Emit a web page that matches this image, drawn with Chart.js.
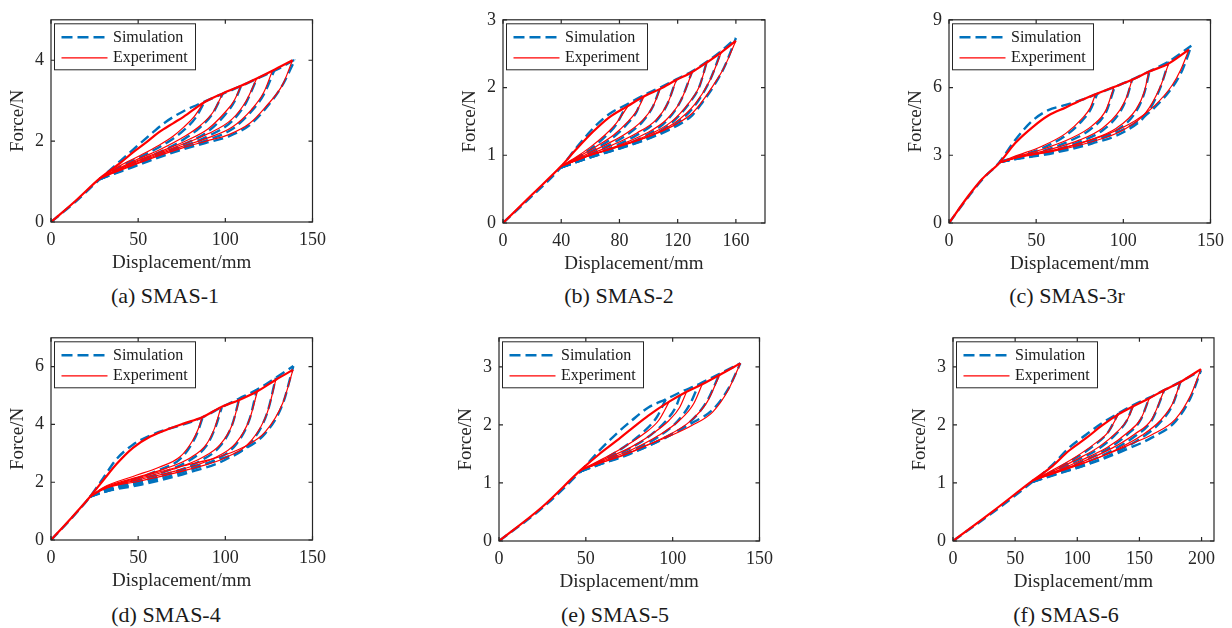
<!DOCTYPE html>
<html>
<head>
<meta charset="utf-8">
<script src="https://cdn.jsdelivr.net/npm/chart.js@4.4.1/dist/chart.umd.min.js"></script>
<style>
  body { margin: 0; background: #fff; width: 1232px; height: 628px; position: relative; overflow: hidden;
         font-family: "Liberation Serif", "Times New Roman", serif; }
  canvas { position: absolute; }
  .cap { position: absolute; width: 240px; text-align: center; font-size: 22px; line-height: 26px; color: #1a1a1a; }
</style>
</head>
<body>
<script>
// Series names / axis titles
const seriesNames = ['Simulation', 'Experiment'];
const xTitle = 'Displacement/mm';
const yTitle = 'Force/N';

// (a) SMAS-1  -- loading path, then unloading branches (junction -> peak)
const aExpLoad = [[0,0],[14,0.52],[28,1.08],[40,1.47],[47,1.72],[55,1.98],[62,2.22],[70,2.44],[76,2.6],[87.5,2.95],[98.5,3.18],[109,3.37],[118,3.55],[127,3.74],[138.5,4.0]];
const aSimLoad = [[0,0],[14,0.5],[28,1.06],[40,1.52],[50,1.9],[58,2.2],[66,2.48],[76,2.74],[84,2.9],[92,3.05],[100,3.2],[110,3.38],[120,3.58],[130,3.78],[140,4.02]];
const aExpUnload = [
  [[28,1.08],[40,1.4],[50,1.62],[62,1.9],[70,2.12],[76,2.34],[82,2.6],[87.5,2.95]],
  [[28,1.08],[47,1.5],[62,1.78],[76,2.1],[86,2.4],[93,2.72],[98.5,3.18]],
  [[28,1.08],[47,1.47],[62,1.73],[76,1.98],[90,2.3],[100,2.72],[105,3.0],[109,3.37]],
  [[28,1.08],[47,1.45],[62,1.7],[76,1.93],[90,2.18],[104,2.55],[112,3.0],[118,3.55]],
  [[28,1.08],[47,1.42],[62,1.67],[76,1.88],[90,2.08],[104,2.35],[115,2.78],[122,3.2],[127,3.74]],
  [[28,1.08],[47,1.4],[62,1.64],[76,1.84],[89,2.0],[102,2.16],[114,2.44],[123,2.84],[133,3.41],[138.5,4.0]]
];
const aSimUnload = [
  [[28,1.06],[40,1.38],[50,1.58],[62,1.85],[70,2.06],[77,2.3],[83,2.58],[88,2.97]],
  [[28,1.06],[47,1.46],[62,1.72],[76,2.04],[86,2.36],[93,2.7],[98.5,3.17]],
  [[28,1.06],[47,1.43],[62,1.68],[76,1.92],[90,2.24],[100,2.66],[105,2.96],[109,3.36]],
  [[28,1.06],[47,1.41],[62,1.65],[76,1.87],[90,2.12],[104,2.5],[112,2.96],[118,3.54]],
  [[28,1.06],[47,1.38],[62,1.62],[76,1.83],[90,2.03],[104,2.3],[115,2.74],[122,3.15],[128,3.74]],
  [[28,1.06],[47,1.36],[62,1.6],[76,1.8],[89,1.96],[102,2.12],[114,2.4],[123,2.8],[133,3.4],[140,4.02]]
];

// (b) SMAS-2
const bExpLoad = [[0,0],[20,0.42],[40,0.84],[50,1.08],[62,1.35],[73,1.56],[86,1.73],[97,1.87],[108,1.98],[119,2.11],[130,2.23],[140,2.37],[150,2.52],[160,2.69]];
const bSimLoad = [[0,0],[20,0.4],[39,0.8],[50,1.1],[62,1.4],[73,1.61],[85,1.75],[96,1.88],[108,2.0],[119,2.12],[130,2.24],[140,2.38],[150,2.54],[160,2.73]];
const bExpUnload = [
  [[40,0.84],[50,0.97],[60,1.12],[70,1.3],[78,1.48],[86,1.73]],
  [[40,0.84],[52,0.98],[64,1.13],[76,1.3],[86,1.5],[92,1.66],[97,1.87]],
  [[40,0.84],[55,0.99],[70,1.15],[85,1.33],[96,1.52],[103,1.72],[108,1.98]],
  [[40,0.84],[58,1.0],[75,1.15],[92,1.33],[105,1.52],[113,1.76],[119,2.11]],
  [[40,0.84],[60,1.0],[80,1.15],[98,1.32],[112,1.52],[122,1.8],[130,2.23]],
  [[40,0.84],[60,1.0],[80,1.14],[100,1.3],[116,1.5],[128,1.78],[135,2.02],[140,2.37]],
  [[40,0.84],[60,1.0],[80,1.13],[101,1.29],[118,1.48],[132,1.76],[142,2.1],[150,2.52]],
  [[40,0.84],[60,1.0],[80,1.13],[103,1.3],[119,1.46],[130,1.62],[137,1.8],[145,2.05],[152,2.3],[160,2.69]]
];
const bSimUnload = [
  [[40,0.82],[50,0.95],[60,1.09],[70,1.27],[78,1.46],[85,1.75]],
  [[40,0.82],[52,0.96],[64,1.1],[76,1.27],[86,1.48],[92,1.65],[96,1.88]],
  [[40,0.82],[55,0.97],[70,1.12],[85,1.3],[96,1.5],[103,1.72],[108,2.0]],
  [[40,0.82],[58,0.98],[75,1.12],[92,1.3],[105,1.5],[113,1.76],[119,2.12]],
  [[40,0.82],[60,0.98],[80,1.12],[98,1.29],[112,1.5],[122,1.8],[130,2.24]],
  [[40,0.82],[60,0.97],[80,1.11],[100,1.27],[116,1.48],[128,1.77],[135,2.02],[140,2.38]],
  [[40,0.82],[60,0.97],[80,1.1],[101,1.26],[118,1.45],[132,1.74],[142,2.1],[150,2.54]],
  [[40,0.82],[60,0.97],[80,1.1],[103,1.27],[119,1.43],[130,1.59],[137,1.78],[145,2.03],[152,2.3],[160,2.73]]
];

// (c) SMAS-3r
const cExpLoad = [[0,0],[11.5,1.24],[19,1.95],[29,2.67],[38,3.54],[48,4.25],[57,4.76],[67,5.12],[76,5.45],[84,5.7],[94.6,6.02],[105,6.34],[114.6,6.7],[126,7.06],[137.6,7.68]];
const cSimLoad = [[0,0],[11.5,1.2],[19,1.92],[29,2.7],[38,3.68],[48,4.54],[57,5.0],[67,5.23],[76,5.45],[85,5.72],[95,6.03],[105,6.35],[115,6.72],[126,7.15],[139,7.85]];
const cExpUnload = [
  [[29,2.67],[38,2.96],[53,3.39],[67,3.97],[76,4.6],[81,5.1],[84,5.7]],
  [[29,2.67],[40,2.95],[55,3.3],[70,3.75],[82,4.3],[90,5.0],[94.6,6.02]],
  [[29,2.67],[40,2.93],[58,3.26],[75,3.68],[88,4.2],[98,5.0],[102,5.6],[105,6.34]],
  [[29,2.67],[40,2.92],[60,3.22],[80,3.66],[96,4.2],[107,5.0],[112,5.8],[114.6,6.7]],
  [[29,2.67],[40,2.9],[60,3.18],[82,3.6],[100,4.12],[113,4.9],[121,6.0],[126,7.06]],
  [[29,2.67],[38,2.89],[53,3.1],[72,3.46],[92,3.97],[107,4.54],[118,5.2],[128,6.1],[133,6.8],[137.6,7.68]]
];
const cSimUnload = [
  [[29,2.7],[38,2.92],[53,3.3],[67,3.88],[76,4.5],[81,5.0],[85,5.72]],
  [[29,2.7],[40,2.9],[55,3.22],[70,3.66],[82,4.2],[90,4.9],[95,6.03]],
  [[29,2.7],[40,2.88],[58,3.18],[75,3.6],[88,4.1],[98,4.9],[102,5.55],[105,6.35]],
  [[29,2.7],[40,2.86],[60,3.15],[80,3.58],[96,4.1],[107,4.9],[112,5.75],[115,6.72]],
  [[29,2.7],[40,2.85],[60,3.1],[82,3.52],[100,4.02],[113,4.8],[121,5.95],[126,7.15]],
  [[29,2.7],[38,2.84],[53,3.04],[72,3.38],[92,3.88],[107,4.44],[118,5.12],[128,6.0],[134,6.8],[139,7.85]]
];

// (d) SMAS-4
const dExpLoad = [[0,0],[11,0.72],[22.4,1.5],[30,2.07],[37.6,2.63],[47,3.19],[57,3.58],[66,3.81],[76,4.03],[86.7,4.25],[97.5,4.6],[108,4.85],[118.4,5.15],[129,5.55],[138.8,5.89]];
const dSimLoad = [[0,0],[11,0.7],[22.4,1.5],[30,2.15],[37.6,2.8],[47,3.3],[57,3.62],[66,3.82],[76,4.0],[87,4.25],[98,4.6],[108,4.9],[118,5.2],[129,5.62],[139,6.02]];
const dExpUnload = [
  [[22.4,1.5],[30,1.82],[47,2.2],[62,2.52],[74,2.88],[81,3.42],[84.5,3.85],[86.7,4.25]],
  [[22.4,1.5],[30,1.8],[48,2.15],[66,2.48],[80,2.85],[89,3.3],[94,3.9],[97.5,4.6]],
  [[22.4,1.5],[30,1.78],[50,2.12],[70,2.45],[86,2.83],[97,3.3],[104,4.0],[108,4.85]],
  [[22.4,1.5],[30,1.77],[50,2.08],[74,2.43],[93,2.82],[106,3.35],[114,4.2],[118.4,5.15]],
  [[22.4,1.5],[30,1.76],[52,2.05],[78,2.43],[100,2.85],[115,3.45],[124,4.4],[129,5.55]],
  [[22.4,1.5],[30,1.75],[40,1.98],[57,2.28],[76,2.57],[95,2.85],[110,3.2],[123,3.75],[133,4.75],[138.8,5.89]]
];
const dSimUnload = [
  [[22.4,1.5],[30,1.72],[47,2.08],[62,2.42],[74,2.8],[81,3.35],[84.5,3.8],[87,4.25]],
  [[22.4,1.5],[30,1.7],[48,2.03],[66,2.38],[80,2.78],[89,3.25],[94,3.85],[98,4.6]],
  [[22.4,1.5],[30,1.68],[50,1.98],[70,2.34],[86,2.75],[97,3.25],[104,4.0],[108,4.9]],
  [[22.4,1.5],[30,1.67],[50,1.95],[74,2.32],[93,2.74],[106,3.3],[114,4.2],[118,5.2]],
  [[22.4,1.5],[30,1.66],[52,1.92],[78,2.32],[100,2.78],[115,3.4],[124,4.4],[129,5.62]],
  [[22.4,1.5],[30,1.65],[40,1.85],[57,2.12],[76,2.45],[95,2.76],[110,3.12],[123,3.7],[133,4.72],[139,6.02]]
];

// (e) SMAS-5
const eExpLoad = [[0,0],[25,0.59],[47,1.22],[57.5,1.49],[67,1.71],[76.6,1.94],[86,2.16],[98,2.4],[108,2.57],[117,2.7],[127,2.86],[139,3.06]];
const eSimLoad = [[0,0],[25,0.57],[47,1.2],[57.5,1.55],[67,1.83],[76.6,2.08],[86,2.3],[96,2.44],[105,2.57],[115,2.7],[127,2.88],[139,3.06]];
const eExpUnload = [
  [[47,1.22],[60,1.42],[72,1.62],[84,1.86],[92,2.08],[98,2.4]],
  [[47,1.22],[60,1.4],[75,1.6],[88,1.84],[98,2.08],[104,2.3],[108,2.57]],
  [[47,1.22],[60,1.38],[77,1.58],[92,1.82],[104,2.08],[112,2.36],[117,2.7]],
  [[47,1.22],[60,1.36],[78,1.56],[96,1.8],[110,2.06],[120,2.4],[127,2.86]],
  [[47,1.22],[57,1.33],[73,1.49],[86,1.66],[100,1.83],[111,1.99],[123,2.22],[132,2.6],[139,3.06]]
];
const eSimUnload = [
  [[47,1.2],[60,1.4],[72,1.62],[84,1.9],[91,2.14],[96,2.44]],
  [[47,1.2],[60,1.38],[75,1.59],[88,1.84],[97,2.1],[102,2.32],[105,2.57]],
  [[47,1.2],[60,1.36],[77,1.56],[92,1.8],[103,2.07],[110,2.36],[115,2.7]],
  [[47,1.2],[60,1.34],[78,1.54],[96,1.78],[110,2.05],[120,2.42],[127,2.88]],
  [[47,1.2],[57,1.31],[73,1.47],[86,1.64],[100,1.85],[111,2.03],[123,2.26],[132,2.62],[139,3.06]]
];

// (f) SMAS-6
const fExpLoad = [[0,0],[32,0.51],[64,1.04],[80,1.29],[93,1.55],[107,1.77],[120,1.99],[133,2.18],[145,2.32],[158,2.46],[170,2.6],[183,2.74],[199.5,2.96]];
const fSimLoad = [[0,0],[32,0.49],[64,1.02],[80,1.31],[93,1.6],[107,1.83],[120,2.03],[133,2.2],[145,2.34],[158,2.47],[170,2.6],[183,2.74],[199.5,2.94]];
const fExpUnload = [
  [[64,1.04],[80,1.22],[98,1.44],[113,1.66],[125,1.88],[133,2.18]],
  [[64,1.04],[82,1.22],[100,1.41],[118,1.63],[132,1.88],[140,2.08],[145,2.32]],
  [[64,1.04],[84,1.21],[104,1.4],[124,1.61],[140,1.86],[151,2.1],[158,2.46]],
  [[64,1.04],[85,1.2],[106,1.38],[128,1.6],[146,1.84],[160,2.1],[170,2.6]],
  [[64,1.04],[85,1.19],[108,1.36],[132,1.58],[152,1.82],[167,2.08],[177,2.38],[183,2.74]],
  [[64,1.04],[80,1.18],[101.5,1.32],[120,1.46],[142,1.66],[160,1.83],[179,2.1],[191,2.5],[199.5,2.96]]
];
const fSimUnload = [
  [[64,1.02],[80,1.2],[98,1.42],[113,1.64],[125,1.88],[133,2.2]],
  [[64,1.02],[82,1.2],[100,1.39],[118,1.6],[132,1.86],[140,2.08],[145,2.34]],
  [[64,1.02],[84,1.19],[104,1.37],[124,1.58],[140,1.83],[151,2.09],[158,2.47]],
  [[64,1.02],[85,1.17],[106,1.34],[128,1.56],[146,1.8],[160,2.08],[170,2.6]],
  [[64,1.02],[85,1.16],[108,1.32],[132,1.54],[152,1.78],[167,2.05],[177,2.36],[183,2.74]],
  [[64,1.02],[80,1.14],[101.5,1.27],[120,1.41],[142,1.6],[160,1.78],[179,2.06],[191,2.46],[199.5,2.94]]
];

// Axis ticks
const xTicks150 = [0, 50, 100, 150];
const xTicksB = [0, 40, 80, 120, 160];
const xTicksF = [0, 50, 100, 150, 200];
const yTicksA = [0, 2, 4];
const yTicksB = [0, 1, 2, 3];
const yTicksC = [0, 3, 6, 9];
const yTicksD = [0, 2, 4, 6];
const yTicksEF = [0, 1, 2, 3];

const captions = ['(a) SMAS-1', '(b) SMAS-2', '(c) SMAS-3r', '(d) SMAS-4', '(e) SMAS-5', '(f) SMAS-6'];

const BLUE = '#0072BD';
const RED = '#FF0000';
const AXIS = '#262626';
const FONT = '"Liberation Serif", "Times New Roman", serif';

// plot box: left, top, width, height (px) ; caption centre x, y
const panels = [
  { exp: aExpLoad, sim: aSimLoad, expU: aExpUnload, simU: aSimUnload, xMax: 150, yMax: 5,   xt: xTicks150, yt: yTicksA,  box: [51, 14, 262, 208],  cap: [165, 296] },
  { exp: bExpLoad, sim: bSimLoad, expU: bExpUnload, simU: bSimUnload, xMax: 180, yMax: 3,   xt: xTicksB,   yt: yTicksB,  box: [503, 14, 262, 209], cap: [619, 296] },
  { exp: cExpLoad, sim: cSimLoad, expU: cExpUnload, simU: cSimUnload, xMax: 150, yMax: 9,   xt: xTicks150, yt: yTicksC,  box: [949, 14, 262, 209], cap: [1067, 296] },
  { exp: dExpLoad, sim: dSimLoad, expU: dExpUnload, simU: dSimUnload, xMax: 150, yMax: 7,   xt: xTicks150, yt: yTicksD,  box: [51, 332, 262, 208], cap: [166, 615] },
  { exp: eExpLoad, sim: eSimLoad, expU: eExpUnload, simU: eSimUnload, xMax: 150, yMax: 3.5, xt: xTicks150, yt: yTicksEF, box: [499, 332, 261, 209], cap: [615, 615] },
  { exp: fExpLoad, sim: fSimLoad, expU: fExpUnload, simU: fSimUnload, xMax: 210, yMax: 3.5, xt: xTicksF,   yt: yTicksEF, box: [953, 332, 261, 209], cap: [1066, 615] }
];

const PAD_L = 50, PAD_T = 12, PAD_R = 20, PAD_B = 52;

function toPts(arr) {
  return arr.map(([x, y]) => ({ x, y }));
}

// Box with inward ticks (MATLAB style) plus the legend
const framePlugin = {
  id: 'frame',
  afterDatasetsDraw(chart) {
    const { ctx, chartArea: a, scales: { x, y } } = chart;
    ctx.save();
    ctx.strokeStyle = AXIS;
    ctx.lineWidth = 1.2;
    ctx.setLineDash([]);
    ctx.strokeRect(a.left, a.top, a.width, a.height);
    const tl = 4;
    ctx.beginPath();
    x.ticks.forEach(t => {
      const px = x.getPixelForValue(t.value);
      ctx.moveTo(px, a.bottom); ctx.lineTo(px, a.bottom - tl);
      ctx.moveTo(px, a.top); ctx.lineTo(px, a.top + tl);
    });
    y.ticks.forEach(t => {
      const py = y.getPixelForValue(t.value);
      ctx.moveTo(a.left, py); ctx.lineTo(a.left + tl, py);
      ctx.moveTo(a.right, py); ctx.lineTo(a.right - tl, py);
    });
    ctx.stroke();

    // legend
    const lx = a.left + 3.5, ly = a.top + 4, lw = 141, lh = 46;
    ctx.fillStyle = '#fff';
    ctx.fillRect(lx, ly, lw, lh);
    ctx.lineWidth = 1;
    ctx.strokeRect(lx, ly, lw, lh);
    const r1 = ly + 13.5, r2 = ly + 34;
    ctx.strokeStyle = BLUE; ctx.lineWidth = 2.4; ctx.setLineDash([11, 5]);
    ctx.beginPath(); ctx.moveTo(lx + 7, r1); ctx.lineTo(lx + 53, r1); ctx.stroke();
    ctx.strokeStyle = RED; ctx.lineWidth = 1.3; ctx.setLineDash([]);
    ctx.beginPath(); ctx.moveTo(lx + 7, r2); ctx.lineTo(lx + 53, r2); ctx.stroke();
    ctx.fillStyle = '#1a1a1a';
    ctx.font = '16px ' + FONT;
    ctx.textBaseline = 'middle';
    ctx.fillText(seriesNames[0], lx + 58.5, r1);
    ctx.fillText(seriesNames[1], lx + 58.5, r2);
    ctx.restore();
  }
};

panels.forEach((p, idx) => {
  const [L, T, W, H] = p.box;
  const cv = document.createElement('canvas');
  const cw = W + PAD_L + PAD_R, ch = H + PAD_T + PAD_B;
  cv.width = cw; cv.height = ch;
  cv.style.left = (L - PAD_L) + 'px';
  cv.style.top = (T - PAD_T) + 'px';
  cv.style.width = cw + 'px';
  cv.style.height = ch + 'px';
  document.body.appendChild(cv);

  const common = { showLine: true, pointRadius: 0, fill: false, cubicInterpolationMode: 'monotone' };
  const datasets = [];
  [p.sim, ...p.simU].forEach(c => datasets.push({
    ...common, data: toPts(c), borderColor: BLUE, borderWidth: 2.4, borderDash: [10, 5], order: 1
  }));
  [p.exp, ...p.expU].forEach((c, i) => datasets.push({
    ...common, data: toPts(c), borderColor: RED, borderWidth: i === 0 ? 2.2 : 1.2, order: 0
  }));

  const tickFont = { family: FONT, size: 18 };
  const titleFont = { family: FONT, size: 19, lineHeight: 1.2 };

  new Chart(cv, {
    type: 'scatter',
    data: { datasets },
    options: {
      responsive: false,
      animation: false,
      devicePixelRatio: 1,
      layout: { padding: { left: 0, top: PAD_T, right: PAD_R, bottom: 0 } },
      plugins: { legend: { display: false }, tooltip: { enabled: false } },
      scales: {
        x: {
          type: 'linear', min: 0, max: p.xMax,
          grid: { display: false, drawTicks: false },
          border: { display: false },
          afterBuildTicks: s => { s.ticks = p.xt.map(v => ({ value: v })); },
          afterFit: s => { s.height = PAD_B; },
          ticks: { font: tickFont, color: AXIS, padding: 7, maxRotation: 0, autoSkip: false },
          title: { display: true, text: xTitle, font: titleFont, color: AXIS, padding: { top: 0, bottom: 0 } }
        },
        y: {
          type: 'linear', min: 0, max: p.yMax,
          grid: { display: false, drawTicks: false },
          border: { display: false },
          afterBuildTicks: s => { s.ticks = p.yt.map(v => ({ value: v })); },
          afterFit: s => { s.width = PAD_L; },
          ticks: { font: tickFont, color: AXIS, padding: 7, autoSkip: false },
          title: { display: true, text: yTitle, font: titleFont, color: AXIS, padding: { top: 6, bottom: 0 } }
        }
      }
    },
    plugins: [framePlugin]
  });

  const cap = document.createElement('div');
  cap.className = 'cap';
  cap.textContent = captions[idx];
  cap.style.left = (p.cap[0] - 120) + 'px';
  cap.style.top = (p.cap[1] - 13) + 'px';
  document.body.appendChild(cap);
});
</script>
</body>
</html>
